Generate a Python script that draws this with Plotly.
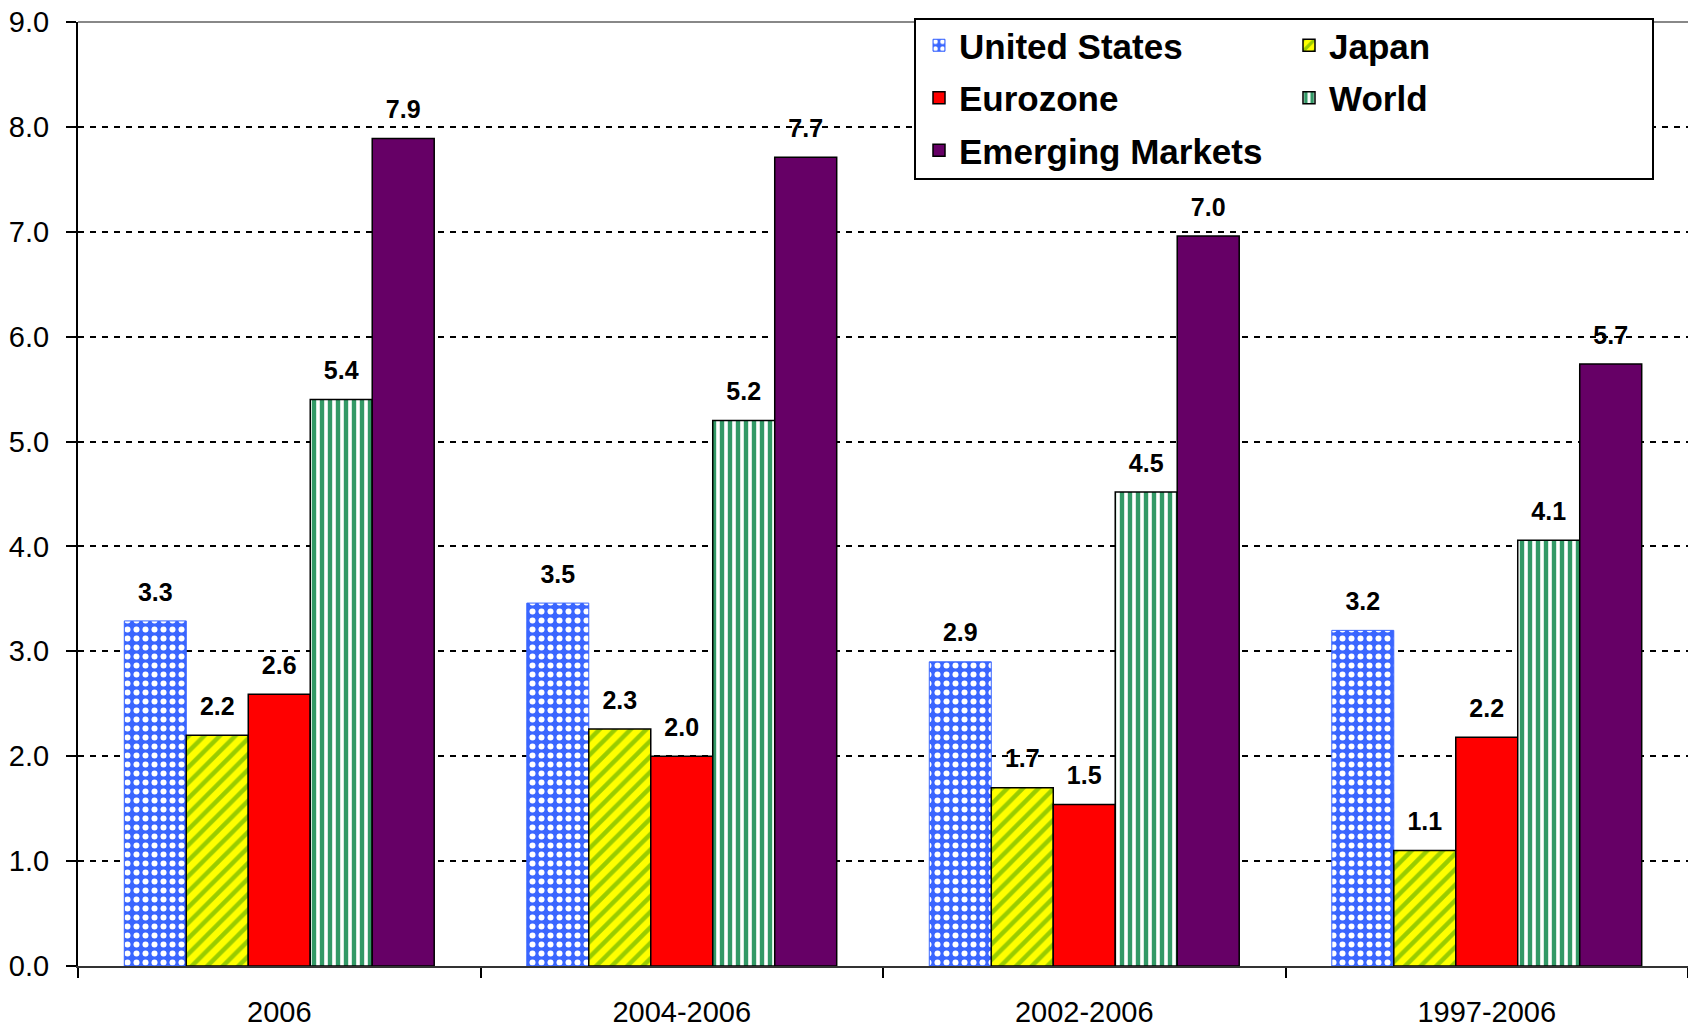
import plotly.graph_objects as go

categories = ["2006", "2004-2006", "2002-2006", "1997-2006"]
united_states = [3.29, 3.46, 2.90, 3.20]
japan = [2.20, 2.26, 1.70, 1.10]
eurozone = [2.59, 2.00, 1.54, 2.18]
world = [5.40, 5.20, 4.52, 4.06]
emerging = [7.89, 7.71, 6.96, 5.74]
y_ticks = [0, 1, 2, 3, 4, 5, 6, 7, 8, 9]

FONT = "Liberation Sans, Arial, sans-serif"

series = [
    ("United States", united_states, "legend", dict(color="#3a66ff", line=dict(color="#3a66ff", width=1),
                                          pattern=dict(shape=".", bgcolor="#3a66ff", fgcolor="white", size=9, solidity=0.35, fillmode="replace"))),
    ("Japan", japan, "legend2", dict(color="#ffff00", line=dict(color="black", width=1.5),
                          pattern=dict(shape="/", bgcolor="#ffff00", fgcolor="#99cc00", size=11, solidity=0.4, fillmode="replace"))),
    ("Eurozone", eurozone, "legend", dict(color="#ff0000", line=dict(color="black", width=1.5))),
    ("World", world, "legend2", dict(color="white", line=dict(color="black", width=1.5),
                          pattern=dict(shape="|", bgcolor="white", fgcolor="#339966", size=8, solidity=0.55, fillmode="replace"))),
    ("Emerging Markets", emerging, "legend", dict(color="#660066", line=dict(color="black", width=1.5))),
]

fig = go.Figure()
for name, vals, leg, marker in series:
    fig.add_trace(go.Bar(
        name=name, x=categories, y=vals, marker=marker,
        legend=leg, legendgroup=name, hoverinfo="skip",
    ))
# value labels: invisible grouped scatter points sharing the bar grouping
for name, vals, leg, marker in series:
    fig.add_trace(go.Scatter(
        name=name + " label", x=categories, y=vals, mode="text+markers",
        marker=dict(size=21, color="rgba(0,0,0,0)"),
        text=[f"<b>{v:.1f}</b>" for v in vals], textposition="top center",
        textfont=dict(family=FONT, size=25, color="black"),
        showlegend=False, hoverinfo="skip", cliponaxis=False,
    ))

legend_style = dict(
    orientation="v", xref="paper", yref="paper",
    xanchor="left", yanchor="top", y=(966 - 16) / 944,
    bgcolor="rgba(0,0,0,0)", borderwidth=0,
    font=dict(family=FONT, size=35, color="black", weight="bold"),
    tracegroupgap=4, traceorder="grouped",
)

fig.update_layout(
    width=1688, height=1030,
    margin=dict(l=78, r=0, t=22, b=64),
    paper_bgcolor="white", plot_bgcolor="white",
    barmode="group", bargap=0.23, bargroupgap=0,
    scattermode="group", scattergap=0.23,
    font=dict(family=FONT, color="black"),
    showlegend=True,
    legend=dict(x=(919 - 78) / 1610, **legend_style),
    legend2=dict(x=(1289 - 78) / 1610, **legend_style),
    xaxis=dict(
        showline=True, linecolor="#333333", linewidth=2,
        ticks="outside", tickson="boundaries", ticklen=10, tickwidth=1.5, tickcolor="black",
        tickfont=dict(family=FONT, size=29, color="black"),
        ticklabelstandoff=19,
        showgrid=False,
    ),
    yaxis=dict(
        range=[0, 9], tickvals=y_ticks, tickformat=".1f",
        showline=True, linecolor="black", linewidth=2,
        ticks="outside", ticklen=10, tickwidth=1.5, tickcolor="black",
        tickfont=dict(family=FONT, size=29, color="black"),
        ticklabelstandoff=11,
        showgrid=True, gridcolor="black", gridwidth=1.5, griddash="6px,6px",
        zeroline=False,
    ),
)

# solid top border of the plot area
fig.add_shape(type="line", xref="paper", yref="paper", x0=0, x1=1, y0=1, y1=1,
              line=dict(color="#888888", width=2), layer="above")
# legend frame
fig.add_shape(type="rect", xref="paper", yref="paper",
              x0=(915 - 78) / 1610, x1=(1653 - 78) / 1610,
              y0=(966 - 179) / 944, y1=(966 - 19) / 944,
              line=dict(color="black", width=2), fillcolor="white", layer="above")

fig.write_html("out.html", config={"displayModeBar": False},
               post_script="document.body.style.margin='0';")
